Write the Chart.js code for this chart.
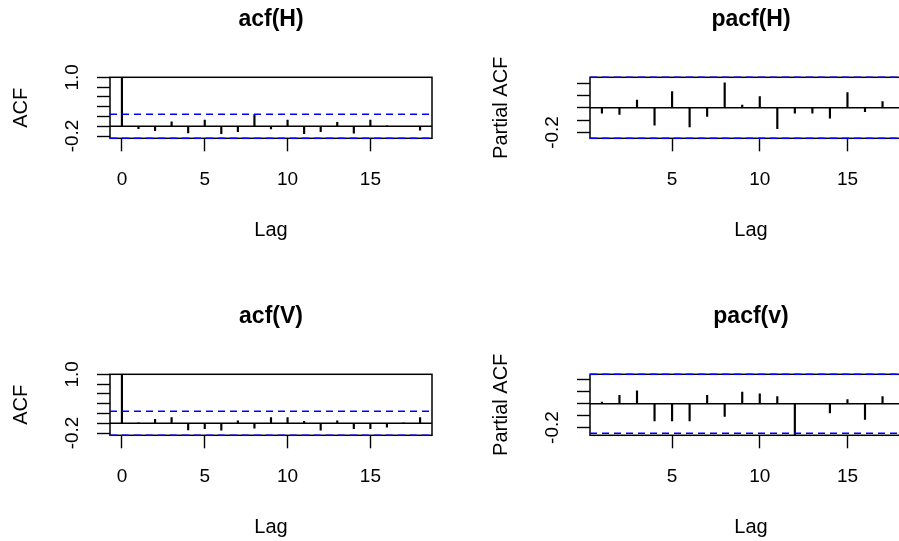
<!DOCTYPE html>
<html>
<head>
<meta charset="utf-8">
<script src="https://cdn.jsdelivr.net/npm/chart.js@4/dist/chart.umd.min.js"></script>
<style>
  html, body { margin: 0; padding: 0; background: #fff; }
  #sheet { position: relative; width: 899px; height: 541px; overflow: hidden; background: #fff; }
  #sheet canvas { position: absolute; }
</style>
</head>
<body>
<div id="sheet">
  <canvas id="acfH"  width="480" height="270" style="left:0;top:0"></canvas>
  <canvas id="pacfH" width="480" height="270" style="left:480px;top:0"></canvas>
  <canvas id="acfV"  width="480" height="270" style="left:0;top:297px"></canvas>
  <canvas id="pacfV" width="480" height="270" style="left:480px;top:297px"></canvas>
</div>
<script>
// Lags used by the correlograms
const acfLags  = [0, 1, 2, 3, 4, 5, 6, 7, 8, 9, 10, 11, 12, 13, 14, 15, 16, 17, 18];
const pacfLags = [1, 2, 3, 4, 5, 6, 7, 8, 9, 10, 11, 12, 13, 14, 15, 16, 17, 18];

// Sample autocorrelations
const acfH = [1, -0.048, -0.089, 0.089, -0.136, 0.123, -0.15, -0.11, 0.238, -0.055,
              0.123, -0.15, -0.11, 0.082, -0.143, 0.123, 0.008, -0.006, -0.08];
const acfV = [1, 0.004, 0.082, 0.116, -0.136, -0.109, -0.143, 0.048, -0.102, 0.116,
              0.116, 0.041, -0.143, 0.048, -0.109, -0.109, -0.082, 0.005, 0.116];

// Sample partial autocorrelations
const pacfH = [-0.043, -0.054, 0.063, -0.14, 0.131, -0.154, -0.069, 0.203, 0.023,
               0.091, -0.169, -0.043, -0.043, -0.083, 0.123, -0.031, 0.051, 0.005];
const pacfV = [0.014, 0.07, 0.109, -0.145, -0.145, -0.145, 0.07, -0.106, 0.098,
               0.084, 0.059, -0.265, 0.003, -0.078, 0.034, -0.131, 0.059, 0.005];

// 95% confidence bound for white noise
const clim = 0.247;

// Axis ticks and the tick values that carry a printed label
const acfXTicks  = [0, 5, 10, 15];
const pacfXTicks = [5, 10, 15];
const acfYTicks  = [-0.2, 0, 0.2, 0.4, 0.6, 0.8, 1.0];
const pacfYTicks = [-0.2, -0.1, 0, 0.1, 0.2];
const acfYLabelled  = [-0.2, 1.0];
const pacfYLabelled = [-0.2];

Chart.defaults.font.family = "'Liberation Sans', Arial, sans-serif";
Chart.defaults.color = '#000';

// Box around the plotting region, drawn under the series
const frame = {
  id: 'frame',
  beforeDatasetsDraw(chart) {
    const { left, top, right, bottom } = chart.chartArea;
    const ctx = chart.ctx;
    ctx.save();
    ctx.strokeStyle = '#000';
    ctx.lineWidth = 1.5;
    ctx.strokeRect(left, top, right - left, bottom - top);
    ctx.restore();
  }
};

// Vertical (rotated) y tick labels placed on the y scale
const yTickText = {
  id: 'yTickText',
  afterDraw(chart, args, opts) {
    const y = chart.scales.y;
    const ctx = chart.ctx;
    ctx.save();
    ctx.fillStyle = '#000';
    ctx.font = "19px 'Liberation Sans', Arial, sans-serif";
    ctx.textAlign = 'center';
    ctx.textBaseline = 'middle';
    for (const v of opts.values) {
      ctx.save();
      ctx.translate(chart.chartArea.left - 37, y.getPixelForValue(v));
      ctx.rotate(-Math.PI / 2);
      ctx.fillText(v.toFixed(1), 0, 0);
      ctx.restore();
    }
    ctx.restore();
  }
};

function correlogram(canvasId, title, lags, values, yTitle, xTicks, yTicks, yLabelled) {
  const first = lags[0], last = lags[lags.length - 1];
  const span = last - first;
  const xMin = first - 0.04 * span;
  const xMax = last + 0.04 * span;
  const yMin = Math.min(-clim, ...values);
  const yMax = Math.max(clim, ...values);
  const hline = y => [{ x: xMin, y }, { x: xMax, y }];
  const band = {
    type: 'line', borderColor: '#0000ff', borderWidth: 1.5, borderDash: [7, 5],
    pointRadius: 0, clip: false
  };

  new Chart(document.getElementById(canvasId), {
    type: 'bar',
    data: {
      datasets: [
        Object.assign({ data: hline(clim) }, band),
        Object.assign({ data: hline(-clim) }, band),
        { type: 'line', data: hline(0), borderColor: '#000', borderWidth: 1.4, pointRadius: 0 },
        {
          type: 'bar',
          data: lags.map((l, i) => ({ x: l, y: values[i] })),
          backgroundColor: '#000', borderWidth: 0, barThickness: 1.5
        }
      ]
    },
    options: {
      responsive: false,
      animation: false,
      devicePixelRatio: 1,
      layout: { padding: { left: 0, right: 48, top: 0, bottom: 27.7 } },
      plugins: {
        legend: { display: false },
        tooltip: { enabled: false },
        title: {
          display: true, text: title, fullSize: false, color: '#000',
          font: { size: 23, weight: 'bold' }, padding: { top: 6, bottom: 43.7 }
        },
        yTickText: { values: yLabelled }
      },
      scales: {
        x: {
          type: 'linear', min: xMin, max: xMax, offset: false,
          afterBuildTicks: s => { s.ticks = xTicks.map(v => ({ value: v })); },
          afterFit: s => { s.height = 104; },
          grid: { drawOnChartArea: false, drawTicks: true, tickLength: 13,
                  tickColor: '#000', tickWidth: 1.4, offset: false },
          border: { display: false },
          ticks: { color: '#000', font: { size: 19 }, padding: 17, maxRotation: 0,
                   autoSkip: false, callback: v => String(v) },
          title: { display: true, text: 'Lag', color: '#000', font: { size: 20 },
                   padding: { top: 0, bottom: 0 } }
        },
        y: {
          type: 'linear', min: yMin, max: yMax,
          afterBuildTicks: s => { s.ticks = yTicks.map(v => ({ value: v })); },
          afterFit: s => { s.width = 110; },
          grid: { drawOnChartArea: false, drawTicks: true, tickLength: 13,
                  tickColor: '#000', tickWidth: 1.4 },
          border: { display: false },
          ticks: { display: false },
          title: { display: true, text: yTitle, color: '#000', font: { size: 20 },
                   padding: { top: 9, bottom: 0 } }
        }
      }
    },
    plugins: [frame, yTickText]
  });
}

correlogram('acfH',  'acf(H)',  acfLags,  acfH,  'ACF',         acfXTicks,  acfYTicks,  acfYLabelled);
correlogram('pacfH', 'pacf(H)', pacfLags, pacfH, 'Partial ACF', pacfXTicks, pacfYTicks, pacfYLabelled);
correlogram('acfV',  'acf(V)',  acfLags,  acfV,  'ACF',         acfXTicks,  acfYTicks,  acfYLabelled);
correlogram('pacfV', 'pacf(v)', pacfLags, pacfV, 'Partial ACF', pacfXTicks, pacfYTicks, pacfYLabelled);
</script>
</body>
</html>
